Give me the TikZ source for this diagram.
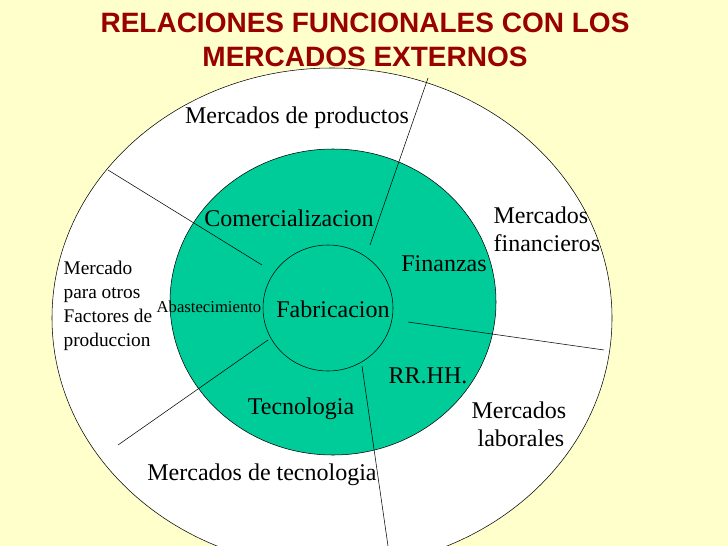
\documentclass[tikz,border=0pt]{standalone}
\usepackage{fontspec}
\setmainfont{Liberation Serif}
\newfontfamily\titlefont{Liberation Sans}
\definecolor{bgyellow}{HTML}{FFFFCC}
\definecolor{ringgreen}{HTML}{00CC99}
\definecolor{titlered}{HTML}{990000}
\tikzset{
  lbl/.style={font=\fontsize{18}{21}\selectfont,inner sep=1pt},
  smalllbl/.style={font=\fontsize{14.5}{18}\selectfont,inner sep=1pt,align=left},
  tinylbl/.style={font=\fontsize{12.5}{14}\selectfont,inner sep=1pt},
}
\begin{document}
\begin{tikzpicture}[x=0.75pt,y=-0.75pt]
		% background and frame
		\fill[bgyellow] (0,0) rectangle (728,546);
		\useasboundingbox (0,0) rectangle (728,546);
		\clip (0,0) rectangle (728,546);
	
		% draw rings
		\draw[fill=white] (332,318) ellipse [x radius=280,y radius=250];
		\draw[fill=ringgreen] (333,302) ellipse [x radius=163,y radius=153];
		\draw[fill=ringgreen] (328,308) ellipse [x radius=65,y radius=63];
	
		% draw separators
		\draw (370,245) -- (428,78);
		\draw (262,265) -- (108,170);
		\draw (408,322) -- (604,350);
		\draw (268,340) -- (118,445);
		\draw (362,366) -- (388,546);
	
		% draw title
		\node (title) at (365,40) [font=\titlefont\bfseries\fontsize{21}{25}\selectfont,text=titlered,align=center] {RELACIONES FUNCIONALES CON LOS\\MERCADOS EXTERNOS};
	
		% draw text nodes
		\node (mprod) at (297,118) [lbl] {Mercados de productos};
		\node (comer) at (289,218) [lbl] {Comercializacion};
		\node (mfin) at (492,229) [lbl,anchor=west,align=left] {Mercados\\financieros};
		\node (fin) at (444,264) [lbl] {Finanzas};
		\node (motros) at (62,306) [smalllbl,anchor=west] {Mercado\\para otros\\Factores de\\produccion};
		\node (abast) at (209,307) [tinylbl] {Abastecimiento};
		\node (fabr) at (333,309) [lbl] {Fabricacion};
		\node (rrhh) at (428,376) [lbl] {RR.HH.};
		\node (tecno) at (301,409) [lbl] {Tecnologia};
		\node (mlab) at (470,424) [lbl,anchor=west,align=left] {Mercados\\\ laborales};
		\node (mtec) at (262,475) [lbl] {Mercados de tecnologia};
	\end{tikzpicture}
\end{document}
